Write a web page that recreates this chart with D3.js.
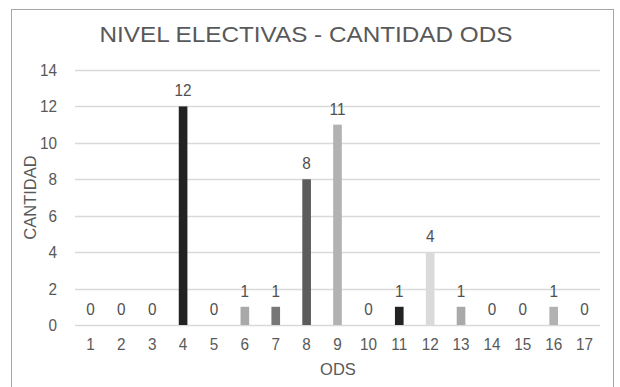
<!DOCTYPE html>
<html>
<head>
<meta charset="utf-8">
<script src="https://cdn.jsdelivr.net/npm/d3@7"></script>
<style>
  html, body { margin: 0; padding: 0; background: #fff; }
  svg { display: block; font-family: "Liberation Sans", Arial, sans-serif; }
</style>
</head>
<body>
<svg id="chart" width="620" height="387"></svg>
<script>
// ODS categories and number of electives per ODS
const categories = ["1","2","3","4","5","6","7","8","9","10","11","12","13","14","15","16","17"];
const values = [0,0,0,12,0,1,1,8,11,0,1,4,1,0,0,1,0];
const barColors = ["#222","#222","#222","#222","#aaa","#a9a9a9","#777","#5c5c5c","#b2b2b2","#aaa","#222","#dadada","#a9a9a9","#aaa","#aaa","#b2b2b2","#aaa"];
const yTicks = [0,2,4,6,8,10,12,14];

const svg = d3.select("#chart");
const margin = { left: 75, right: 20, top: 70, bottom: 62 };
const W = 620, H = 387;
const textColor = "#595959";
const labelSize = 17;
const squeeze = 0.9;

// outer frame
svg.append("rect")
  .attr("x", 11.5).attr("y", 9.5)
  .attr("width", 602).attr("height", 400)
  .attr("fill", "#fff").attr("stroke", "#a6a6a6").attr("stroke-width", 1);

const x = d3.scaleBand()
  .domain(categories)
  .range([margin.left, W - margin.right])
  .paddingInner(0.72).paddingOuter(0.36);

const y = d3.scaleLinear().domain([0, 14]).range([H - margin.bottom, margin.top]);

// gridlines
svg.append("g")
  .selectAll("line")
  .data(yTicks)
  .join("line")
  .attr("x1", margin.left).attr("x2", W - margin.right)
  .attr("y1", d => Math.round(y(d)) + 0.5).attr("y2", d => Math.round(y(d)) + 0.5)
  .attr("stroke", "#d9d9d9").attr("stroke-width", 1.4);

// y axis labels
const yAxis = svg.append("g")
  .attr("transform", `translate(${margin.left},0)`)
  .call(d3.axisLeft(y).tickValues(yTicks).tickSize(0).tickPadding(0));
yAxis.select(".domain").remove();
yAxis.selectAll("text")
  .attr("fill", textColor).attr("font-size", labelSize)
  .attr("font-family", "'Liberation Sans', Arial, sans-serif")
  .attr("x", -18 / squeeze)
  .attr("transform", `scale(${squeeze},1)`);

// x axis labels
const xAxis = svg.append("g")
  .attr("transform", `translate(0,${H - margin.bottom})`)
  .call(d3.axisBottom(x).tickSize(0).tickPadding(0));
xAxis.select(".domain").remove();
xAxis.selectAll("text")
  .attr("fill", textColor).attr("font-size", labelSize)
  .attr("font-family", "'Liberation Sans', Arial, sans-serif")
  .attr("dy", null).attr("y", 25)
  .attr("transform", `scale(${squeeze},1)`);

// bars
svg.append("g")
  .selectAll("rect")
  .data(values)
  .join("rect")
  .attr("x", (d, i) => x(categories[i]))
  .attr("width", x.bandwidth())
  .attr("y", d => y(d))
  .attr("height", d => y(0) - y(d))
  .attr("fill", (d, i) => barColors[i]);

// value labels
svg.append("g")
  .selectAll("text")
  .data(values)
  .join("text")
  .attr("transform", (d, i) =>
    `translate(${x(categories[i]) + x.bandwidth() / 2},${y(d) - 10}) scale(${squeeze},1)`)
  .attr("text-anchor", "middle")
  .attr("fill", "#505050")
  .attr("font-size", labelSize)
  .text(d => d);

// titles
svg.append("text")
  .attr("transform", "translate(306,42) scale(1.08,1)")
  .attr("text-anchor", "middle")
  .attr("fill", textColor)
  .attr("font-size", 22.5)
  .text("NIVEL ELECTIVAS - CANTIDAD ODS");

svg.append("text")
  .attr("x", 338).attr("y", 375)
  .attr("text-anchor", "middle")
  .attr("fill", textColor)
  .attr("font-size", 16.5)
  .text("ODS");

svg.append("text")
  .attr("transform", `translate(36,${(y(0) + y(14)) / 2}) rotate(-90)`)
  .attr("text-anchor", "middle")
  .attr("fill", textColor)
  .attr("font-size", 16.5)
  .text("CANTIDAD");
</script>
</body>
</html>
